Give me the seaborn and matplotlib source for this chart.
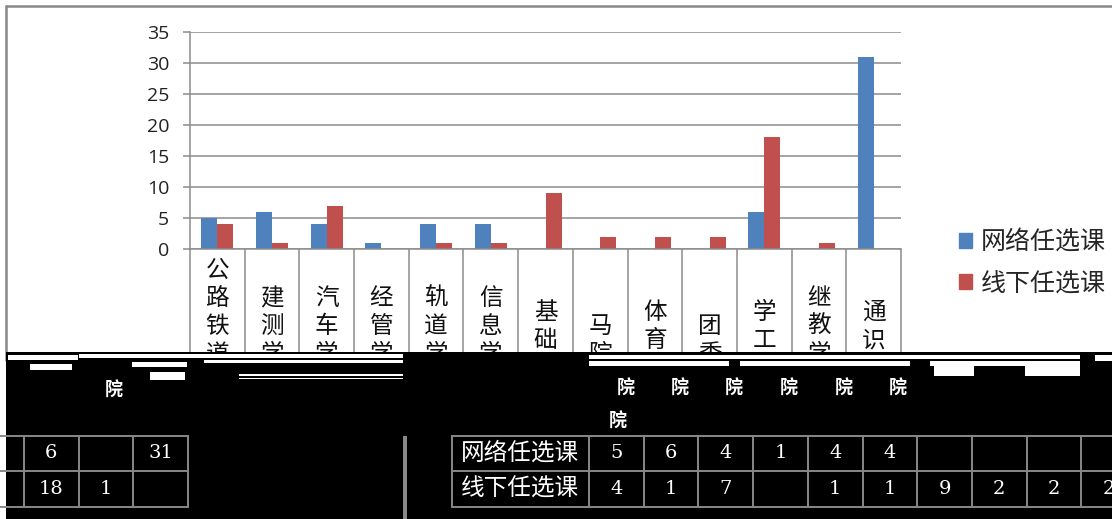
import numpy as np
import pandas as pd
import matplotlib
matplotlib.use('Agg')
import matplotlib.pyplot as plt
import seaborn as sns
from matplotlib.patches import Rectangle
from matplotlib.lines import Line2D

# ---------------- data ----------------
categories = ["公路铁道学院", "建测学院", "汽车学院", "经管学院", "轨道学院", "信息学院",
              "基础部", "马院", "体育部", "团委", "学工部", "继教学院", "通识部"]
online = [5, 6, 4, 1, 4, 4, 0, 0, 0, 0, 6, 0, 31]
offline = [4, 1, 7, 0, 1, 1, 9, 2, 2, 2, 18, 1, 0]
series = ["网络任选课", "线下任选课"]
colors = ["#4F81BD", "#C0504D"]
yticks = [0, 5, 10, 15, 20, 25, 30, 35]

sns.set_theme(style='white')
plt.rcParams['font.family'] = ['Noto Sans CJK SC', 'DejaVu Sans']

W, H = 1112, 519
fig = plt.figure(figsize=(W / 100, H / 100), dpi=100)
fig.patch.set_facecolor('white')


def fx(px):
    return px / W


def fy(py):
    return 1 - py / H


GRID = '#8c8c8c'

ax = fig.add_axes([fx(190), fy(249), fx(901) - fx(190), fy(32) - fy(249)])
df = pd.DataFrame({
    'cat': categories * 2,
    'val': online + offline,
    'series': [series[0]] * len(categories) + [series[1]] * len(categories),
})
sns.barplot(data=df, x='cat', y='val', hue='series', order=categories, hue_order=series,
            palette=colors, width=0.59, saturation=1, ax=ax, legend=False, linewidth=0)

ax.set_xlim(-0.5, len(categories) - 0.5)
ax.set_ylim(0, 35)
ax.set_yticks(yticks)
ax.set_yticklabels([str(v) for v in yticks], fontsize=14, family='Open Sans', color='#222222')
ax.yaxis.grid(True, color=GRID, lw=1.1)
ax.set_axisbelow(True)
ax.set_xlabel('')
ax.set_ylabel('')
for s in ['top', 'right']:
    ax.spines[s].set_visible(False)
for s in ['left', 'bottom']:
    ax.spines[s].set_color(GRID)
    ax.spines[s].set_linewidth(1.1)
ax.tick_params(axis='y', length=5, color=GRID, width=1.1, pad=10, left=True)

ax.set_xticks(range(len(categories)))
ax.set_xticklabels(["\n".join(c) for c in categories], fontsize=17, linespacing=1.28, color='#111111')
for lbl in ax.get_xticklabels():
    lbl.set_va('center')
ax.tick_params(axis='x', which='major', length=0, pad=66)
ax.set_xticks(np.arange(-0.5, len(categories), 1), minor=True)
ax.tick_params(axis='x', which='minor', length=80, color=GRID, width=1.1, bottom=True)

handles = [Rectangle((0, 0), 1, 1, color=c) for c in colors]
fig.legend(handles, series, loc='center left', bbox_to_anchor=(fx(936), fy(263)), frameon=False,
           fontsize=18, handlelength=0.55, handleheight=0.55, handletextpad=0.35, labelspacing=0.6)

# outer chart border
fig.add_artist(Line2D([fx(6), fx(6)], [fy(360), fy(6)], color='#888888', lw=1.8))
fig.add_artist(Line2D([fx(6), fx(W)], [fy(6), fy(6)], color='#888888', lw=1.8))

# ---------------- damaged bottom region with data table ----------------
bax = fig.add_axes([0, 0, 1, fy(352)])
bax.set_zorder(5)
bax.set_xlim(0, W)
bax.set_ylim(H, 352)
bax.axis('off')
bax.add_patch(Rectangle((6, 352), W - 6, H - 352, color='black', lw=0))

# white glitch stripes
stripes = [(79, 354, 324, 4), (204, 360, 199, 3), (239, 374, 164, 2), (239, 378, 164, 1.5),
           (8, 355, 70, 5), (30, 364, 42, 6), (132, 362, 55, 5), (150, 372, 35, 8),
           (589, 355, 491, 4), (589, 361, 140, 5), (740, 361, 170, 5), (930, 361, 150, 5),
           (1095, 355, 17, 6), (934, 366, 40, 10), (1025, 366, 55, 10)]
for (x, y, w, h) in stripes:
    bax.add_patch(Rectangle((x, y), w, h, color='white', lw=0))
for (x, y) in [(626, 388), (680, 388), (734, 388), (789, 388), (844, 388), (898, 388),
               (618, 421), (114, 390)]:
    bax.text(x, y, "院", color='white', fontsize=13, fontweight='bold', ha='center', va='center')

# grey bar
bax.add_patch(Rectangle((403, 436), 4, H - 436, color='#888888', lw=0))

# table (the rendered row wraps around the picture width)
row_y = [436, 471, 507]
col0 = 589
cw = 54.7
ncol = len(categories)
for shift in (0, -W):
    for y in row_y:
        bax.plot([452 + shift, col0 + cw * ncol + shift], [y, y], color='#888888', lw=1.4)
    for k in range(ncol + 1):
        x = col0 + cw * k + shift
        bax.plot([x, x], [row_y[0], row_y[-1]], color='#888888', lw=1.4)
    bax.plot([452 + shift, 452 + shift], [row_y[0], row_y[-1]], color='#888888', lw=1.4)
    for r, name in enumerate(series):
        yc = (row_y[r] + row_y[r + 1]) / 2
        if 0 <= 520 + shift <= W:
            bax.text(520 + shift, yc, name, color='white', fontsize=17, ha='center', va='center')
        vals = online if r == 0 else offline
        for k, v in enumerate(vals):
            xc = col0 + cw * (k + 0.5) + shift
            if v and 0 <= xc <= W:
                bax.text(xc, yc, str(v), color='white', fontsize=14,
                         family='DejaVu Serif', ha='center', va='center', clip_on=True)

fig.savefig('out.png', dpi=100)
